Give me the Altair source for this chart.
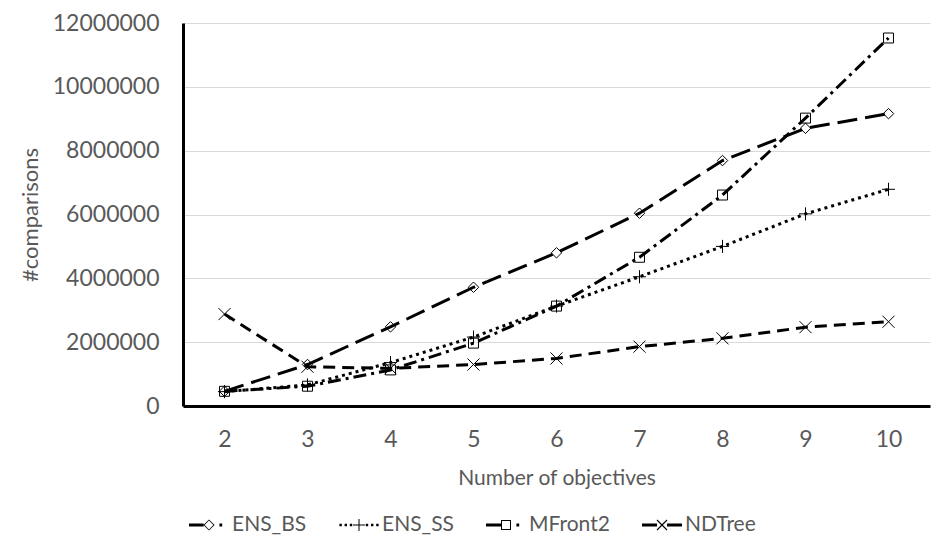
import altair as alt
import pandas as pd

objectives = [2, 3, 4, 5, 6, 7, 8, 9, 10]
series_names = ["ENS_BS", "ENS_SS", "MFront2", "NDTree"]
ens_bs = [460000, 1300000, 2480000, 3720000, 4800000, 6040000, 7690000, 8700000, 9160000]
ens_ss = [450000, 660000, 1360000, 2160000, 3130000, 4050000, 5000000, 6020000, 6790000]
mfront2 = [460000, 620000, 1130000, 1970000, 3130000, 4660000, 6610000, 9020000, 11530000]
ndtree = [2880000, 1230000, 1180000, 1300000, 1490000, 1860000, 2120000, 2470000, 2640000]
y_ticks = [0, 2000000, 4000000, 6000000, 8000000, 10000000, 12000000]

rows = []
for name, vals in zip(series_names, [ens_bs, ens_ss, mfront2, ndtree]):
    for xv, v in zip(objectives, vals):
        rows.append({"objectives": xv, "comparisons": v, "series": name})
df = pd.DataFrame(rows)

FONT = "Lato"
GREY = "#595959"

# plot markers (stroked)
marker_paths = [
    "M0,-1L1,0L0,1L-1,0Z",
    "M-1.25,0L1.25,0M0,-1.25L0,1.25",
    "M-0.95,-0.95L0.95,-0.95L0.95,0.95L-0.95,0.95Z",
    "M-1.15,-1.15L1.15,1.15M-1.15,1.15L1.15,-1.15",
]
dashes = [[20, 8], [3, 4], [13, 5, 3, 5], [12, 7]]


def rect(x1, x2, h):
    return f"M{x1},{-h}L{x2},{-h}L{x2},{h}L{x1},{h}Z"


def vrect(y1, y2, w):
    return f"M{-w},{y1}L{w},{y1}L{w},{y2}L{-w},{y2}Z"


lw = 0.075
leg_bs = (rect(-1, -0.27, lw)
          + "M0,-0.28L0.28,0L0,0.28L-0.28,0Z" + "M0,-0.22L-0.22,0L0,0.22L0.22,0Z"
          + rect(0.52, 0.66, 0.07))
leg_ss = "".join(rect(round(c - 0.06, 2), round(c + 0.06, 2), 0.06) for c in [-0.92, -0.66, -0.4, 0.4, 0.66, 0.92])
leg_ss += rect(-0.3, 0.3, 0.025) + vrect(-0.3, 0.3, 0.025)
leg_mf = (rect(-1, -0.25, lw)
          + "M-0.25,-0.25L0.25,-0.25L0.25,0.25L-0.25,0.25Z" + "M-0.2,-0.2L-0.2,0.2L0.2,0.2L0.2,-0.2Z"
          + rect(0.52, 0.66, 0.07))
leg_nd = (rect(-1, -0.25, lw)
          + "M-0.27,-0.23L-0.23,-0.27L0.27,0.23L0.23,0.27Z"
          + "M-0.23,0.27L-0.27,0.23L0.23,-0.27L0.27,-0.23Z"
          + rect(0.25, 1, lw))
legend_paths = [leg_bs, leg_ss, leg_mf, leg_nd]

base = alt.Chart(df).encode(
    x=alt.X("objectives:O",
            scale=alt.Scale(type="point", padding=0.5),
            axis=alt.Axis(title="Number of objectives", labelAngle=0, ticks=False, grid=False,
                          domainColor="black", domainWidth=3, labelPadding=22, titlePadding=16,
                          labelFontSize=23, titleFontSize=21, labelColor=GREY, titleColor=GREY,
                          labelFont=FONT, titleFont=FONT, titleFontWeight="normal")),
    y=alt.Y("comparisons:Q",
            scale=alt.Scale(domain=[0, 12000000], nice=False),
            axis=alt.Axis(title="#comparisons", values=y_ticks, format="d", ticks=False,
                          gridColor="#d9d9d9", gridWidth=1, domainColor="black", domainWidth=3,
                          labelPadding=24, titlePadding=10, labelFontSize=23, titleFontSize=22,
                          labelColor=GREY, titleColor=GREY, labelFont=FONT, titleFont=FONT,
                          titleFontWeight="normal")),
)

lines = base.mark_line(strokeWidth=3, color="black").encode(
    strokeDash=alt.StrokeDash("series:N", scale=alt.Scale(domain=series_names, range=dashes), legend=None)
)

points = base.mark_point(filled=False, color="black", strokeWidth=1, size=110, opacity=1).encode(
    shape=alt.Shape("series:N", scale=alt.Scale(domain=series_names, range=marker_paths), legend=None)
)

legend_layer = base.mark_point(filled=True, color="black", opacity=1).encode(
    shape=alt.Shape("series:N",
                    scale=alt.Scale(domain=series_names, range=legend_paths),
                    legend=alt.Legend(orient="none", legendX=6, legendY=482, direction="horizontal",
                                      title=None, symbolSize=1600, labelFontSize=21, labelFont=FONT,
                                      labelColor=GREY, columnPadding=32, labelOffset=3, padding=0,
                                      symbolFillColor="black", symbolStrokeWidth=0, symbolOpacity=1))
).transform_filter("datum.comparisons < 0")

chart = alt.layer(lines, points, legend_layer).resolve_scale(shape="independent").properties(
    width=747, height=383,
    autosize=alt.AutoSizeParams(type="none"),
    padding={"left": 175, "top": 15, "right": 8, "bottom": 145},
    background="white",
).configure_view(stroke=None)

chart.save("out.html", embed_options={"renderer": "svg", "actions": False})
